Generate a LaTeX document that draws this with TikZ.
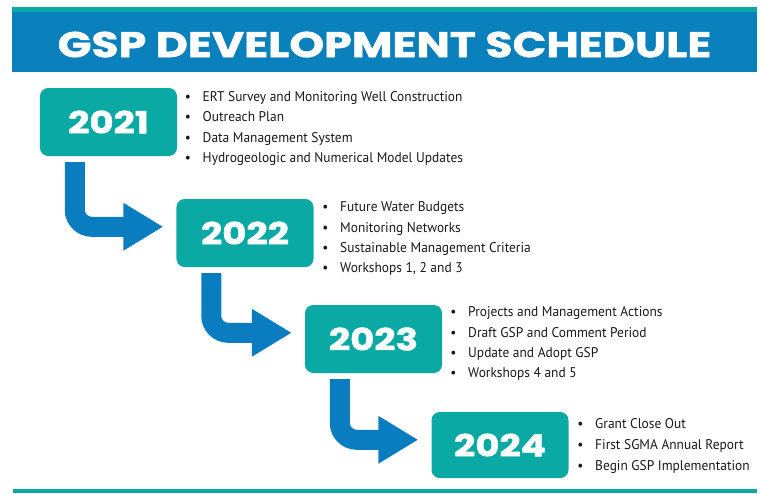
\documentclass[tikz,border=0pt]{standalone}
\usepackage{fontspec}
\setmainfont{PT Sans}[FakeStretch=0.955]
\newfontfamily\headfont{Poppins}[BoldFeatures={FakeStretch=1.22, FakeBold=1.5}]
\newfontfamily\titlefont{Poppins}[BoldFeatures={FakeStretch=1.24, FakeBold=1.5}]
\usepackage{xcolor}
\usepackage{tikz}
\usetikzlibrary{arrows.meta,calc}
\definecolor{gspblue}{HTML}{0A80BD}
\definecolor{gspteal}{HTML}{0AA9A3}
\definecolor{gsparrow}{HTML}{0A7DC0}

\begin{document}
\begin{tikzpicture}[x=0.03cm, y=-0.03cm,
  yearbox/.style={rounded corners=7pt, fill=gspteal, text=white, inner sep=0pt,
    minimum width=4.11cm, minimum height=2.04cm,
    font=\headfont\bfseries\fontsize{26}{26}\selectfont},
  item/.style={anchor=base west, inner sep=0pt, text=black!90,
    font=\fontsize{12}{14}\selectfont},
  steparrow/.style={draw=gsparrow, line width=0.6cm, rounded corners=0.51cm,
    -{Triangle[length=1.2cm, width=1.35cm]}}]
  \useasboundingbox (0,0) rectangle (762,493);
  \newcommand{\bul}{\llap{\textbullet\hspace{10pt}}}
  \newcommand{\yr}[1]{\raisebox{-1.5pt}{#1}}

  % header band
  \fill [gspteal] (12,7) rectangle (757,11.5);
  \fill [gspblue] (12,11.5) rectangle (757,72);
  \fill [gspteal] (13,489) rectangle (757,493);
  \node (title) at (384.5,44.5) [text=white, inner sep=0pt,
    font=\titlefont\bfseries\fontsize{30.5}{30.5}\selectfont] {GSP DEVELOPMENT SCHEDULE};

  % years
  \node (y21) at (108.5,122) [yearbox] {\yr{2021}};
  \node (y22) at (245,233) [yearbox] {\yr{2022}};
  \node (y23) at (373.5,339) [yearbox] {\yr{2023}};
  \node (y24) at (500,445) [yearbox, minimum height=1.98cm] {\yr{2024}};

  % steps
  \draw [steparrow] ($(y21.south west)+(35,6)$) |- ($(y22.north west)+(-13,28)$);
  \draw [steparrow] ($(y22.south west)+(35,6)$) |- ($(y23.north west)+(-13,28)$);
  \draw [steparrow] ($(y23.south west)+(35,6)$) |- ($(y24.north west)+(-13,28)$);

  % 2021
  \node (i21a) at (202.5,101.5) [item] {\bul ERT Survey and Monitoring Well Construction};
  \node (i21b) at (202.5,121.8) [item] {\bul Outreach Plan};
  \node (i21c) at (202.5,142.1) [item] {\bul Data Management System};
  \node (i21d) at (202.5,162.4) [item] {\bul Hydrogeologic and Numerical Model Updates};
  % 2022
  \node (i22a) at (340,211.7) [item] {\bul Future Water Budgets};
  \node (i22b) at (340,232) [item] {\bul Monitoring Networks};
  \node (i22c) at (340,252.3) [item] {\bul Sustainable Management Criteria};
  \node (i22d) at (340,272.6) [item] {\bul Workshops 1, 2 and 3};
  % 2023
  \node (i23a) at (468,316.7) [item] {\bul Projects and Management Actions};
  \node (i23b) at (468,337) [item] {\bul Draft GSP and Comment Period};
  \node (i23c) at (468,357.3) [item] {\bul Update and Adopt GSP};
  \node (i23d) at (468,377.6) [item] {\bul Workshops 4 and 5};
  % 2024
  \node (i24a) at (595,428) [item] {\bul Grant Close Out};
  \node (i24b) at (595,449) [item] {\bul First SGMA Annual Report};
  \node (i24c) at (595,470) [item] {\bul Begin GSP Implementation};
\end{tikzpicture}
\end{document}
